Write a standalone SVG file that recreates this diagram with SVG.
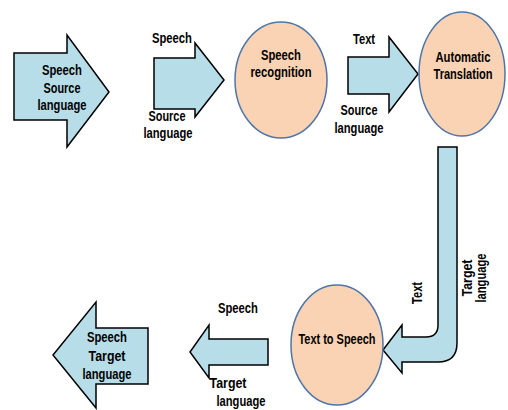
<svg xmlns="http://www.w3.org/2000/svg" width="508" height="410" viewBox="0 0 508 410">
<style>
.arr{fill:#b7dde8;stroke:#000;stroke-width:1.5;stroke-linejoin:miter}
.ell{fill:#fad3b4;stroke:#4f74a8;stroke-width:1.5}
text{font-family:"Liberation Sans",Arial,sans-serif;font-weight:bold;font-size:14px;fill:#000;text-anchor:middle}
</style>
<rect width="508" height="410" fill="#fff"/>
<g id="connectors">
<polygon class="arr" points="14,53 67,53 67,35 109,92 67,147 67,120 14,120"/>
<polygon class="arr" points="154,58 195,58 195,43 224,80 195,117 195,109 154,109"/>
<polygon class="arr" points="348,57 389,57 389,37 418,74 389,112 389,94 348,94"/>
<path class="arr" d="M438,147 L457,147 L457,343 Q457,362 438,362 L402,362 L402,373 L383,350 L402,325 L402,337 L426,337 Q438,337 438,325 Z"/>
<polygon class="arr" points="268,339 209,339 209,325 190,352 209,378 209,365 268,365"/>
<polygon class="arr" points="148,328 96,328 96,302 53,355 96,408 96,384 148,384"/>
<text x="172" y="43" textLength="40" lengthAdjust="spacingAndGlyphs">Speech</text>
<text x="167" y="121" textLength="37" lengthAdjust="spacingAndGlyphs">Source</text>
<text x="168" y="138" textLength="49" lengthAdjust="spacingAndGlyphs">language</text>
<text x="364" y="44" textLength="22" lengthAdjust="spacingAndGlyphs">Text</text>
<text x="359" y="115" textLength="37" lengthAdjust="spacingAndGlyphs">Source</text>
<text x="359" y="133" textLength="49" lengthAdjust="spacingAndGlyphs">language</text>
<text transform="translate(422,293) rotate(-90)" textLength="22" lengthAdjust="spacingAndGlyphs">Text</text>
<text transform="translate(472,278) rotate(-90)" textLength="37" lengthAdjust="spacingAndGlyphs">Target</text>
<text transform="translate(486,278) rotate(-90)" textLength="49" lengthAdjust="spacingAndGlyphs">language</text>
<text x="238" y="313" textLength="40" lengthAdjust="spacingAndGlyphs">Speech</text>
<text x="228" y="388" textLength="37" lengthAdjust="spacingAndGlyphs">Target</text>
<text x="241" y="406" textLength="49" lengthAdjust="spacingAndGlyphs">language</text>
</g>
<g id="n-source">
<text x="62" y="75" textLength="40" lengthAdjust="spacingAndGlyphs">Speech</text>
<text x="62" y="93" textLength="37" lengthAdjust="spacingAndGlyphs">Source</text>
<text x="62" y="110" textLength="49" lengthAdjust="spacingAndGlyphs">language</text>
</g>
<g id="n-recog">
<ellipse class="ell" cx="281" cy="80" rx="46" ry="58"/>
<text x="281" y="60" textLength="40" lengthAdjust="spacingAndGlyphs">Speech</text>
<text x="281" y="77" textLength="61" lengthAdjust="spacingAndGlyphs">recognition</text>
</g>
<g id="n-trans">
<ellipse class="ell" cx="462" cy="74" rx="43" ry="62"/>
<text x="463" y="62" textLength="55" lengthAdjust="spacingAndGlyphs">Automatic</text>
<text x="463" y="79" textLength="59" lengthAdjust="spacingAndGlyphs">Translation</text>
</g>
<g id="n-tts">
<ellipse class="ell" cx="337" cy="345" rx="46" ry="60"/>
<text x="337" y="344" textLength="77" lengthAdjust="spacingAndGlyphs">Text to Speech</text>
</g>
<g id="n-target">
<text x="107" y="342" textLength="40" lengthAdjust="spacingAndGlyphs">Speech</text>
<text x="107" y="361" textLength="37" lengthAdjust="spacingAndGlyphs">Target</text>
<text x="107" y="379" textLength="49" lengthAdjust="spacingAndGlyphs">language</text>
</g>
</svg>
